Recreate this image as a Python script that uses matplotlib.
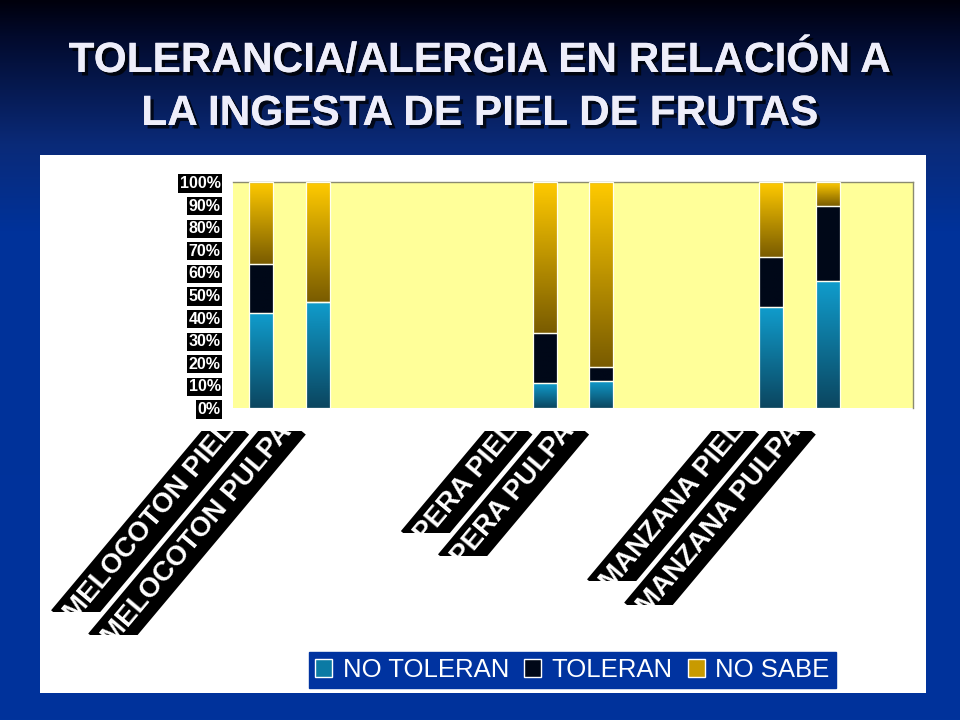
import numpy as np
import matplotlib
matplotlib.use('Agg')
import matplotlib.pyplot as plt
import matplotlib.patheffects as pe
from matplotlib.patches import Rectangle, Patch
from matplotlib.colors import LinearSegmentedColormap, to_rgb
from matplotlib.transforms import Bbox, blended_transform_factory

plt.rcParams['font.family'] = ['Liberation Sans', 'DejaVu Sans']

nan = np.nan
categories = ['MELOCOTON PIEL', 'MELOCOTON PULPA', '', '', '',
              'PERA PIEL', 'PERA PULPA', '', '',
              'MANZANA PIEL', 'MANZANA PULPA', '']
no_toleran = [42, 47, nan, nan, nan, 11, 12, nan, nan, 44.5, 56, nan]
toleran = [21.5, 0, nan, nan, nan, 22, 6, nan, nan, 22.5, 33.5, nan]
no_sabe = [36.5, 53, nan, nan, nan, 67, 82, nan, nan, 33, 10.5, nan]
series_names = ['NO TOLERAN', 'TOLERAN', 'NO SABE']

# (top colour, bottom colour) of each series gradient
grad_colors = [('#109ccc', '#0b4660'), ('#000818', '#000818'), ('#ffca00', '#7a5c00')]
legend_colors = ['#0b7aa4', '#000818', '#c89a00']

W, H = 960, 720
fig = plt.figure(figsize=(W / 100, H / 100), dpi=100)

# slide background
bg = fig.add_axes([0, 0, 1, 1], zorder=-10)
stops = [0.0, 0.05, 0.2, 0.32, 1.0]
stop_cols = [to_rgb(c) for c in ['#00000c', '#020a2c', '#0a2a78', '#00329a', '#00339c']]
t = np.linspace(0, 1, H)
grad = np.stack([np.interp(t, stops, [c[k] for c in stop_cols]) for k in range(3)], axis=-1)
bg.imshow(grad[:, None, :], aspect='auto', extent=[0, 1, 0, 1])
bg.axis('off')

# white chart panel
fig.add_artist(Rectangle((40 / W, 1 - 693 / H), 886 / W, 538 / H, transform=fig.transFigure,
                         facecolor='white', edgecolor='none', zorder=-5))

shadow = [pe.withSimplePatchShadow(offset=(2.5, -2.5), shadow_rgbFace='black', alpha=0.75), pe.Normal()]
fig.text(0.5, 1 - 61 / H, 'TOLERANCIA/ALERGIA EN RELACIÓN A', ha='center', va='center',
         fontsize=30.5, fontweight='bold', color='#eeeefa', path_effects=shadow)
fig.text(0.5, 1 - 114 / H, 'LA INGESTA DE PIEL DE FRUTAS', ha='center', va='center',
         fontsize=30.5, fontweight='bold', color='#eeeefa', path_effects=shadow)

ax = fig.add_axes([233 / W, 1 - 408 / H, 680 / W, 226 / H])
ax.set_facecolor('#ffff99')
for s in ['left', 'bottom']:
    ax.spines[s].set_visible(False)
for s in ['top', 'right']:
    ax.spines[s].set_color('#8a8a70')
    ax.spines[s].set_linewidth(1)

x = np.arange(len(categories))
width = 0.42
bottom = np.zeros(len(categories))
for vals, (ctop, cbot) in zip([no_toleran, toleran, no_sabe], grad_colors):
    vals = np.array(vals, dtype=float)
    bars = ax.bar(x, vals, width, bottom=bottom, facecolor='none',
                  edgecolor='#fffff0', linewidth=0.9, zorder=3)
    cmap = LinearSegmentedColormap.from_list('g', [cbot, ctop])
    for p in bars.patches:
        h = p.get_height()
        if not np.isfinite(h) or h <= 0:
            continue
        x0, y0, w = p.get_x(), p.get_y(), p.get_width()
        img = ax.imshow(np.linspace(0, 1, 64).reshape(-1, 1), cmap=cmap, origin='lower',
                        extent=[x0, x0 + w, y0, y0 + h], aspect='auto', zorder=2)
        img.set_clip_path(p)
    bottom = bottom + vals

ax.set_xlim(-0.5, len(categories) - 0.5)
ax.set_ylim(0, 100)
ax.set_xticks([])
ax.set_yticks(range(0, 101, 10))
ax.set_yticklabels([f'{v}%' for v in range(0, 101, 10)])
ax.tick_params(axis='y', length=0, pad=9, labelcolor='white', labelsize=11.5)
for lab in ax.get_yticklabels():
    lab.set_fontweight('bold')
    lab.set_bbox(dict(facecolor='black', edgecolor='none', pad=1.2))

# rotated category labels, white on black, clipped like the original
trans = blended_transform_factory(ax.transData, fig.transFigure)
labels = []
for i, name in enumerate(categories):
    if not name:
        continue
    txt = ax.text(i - 0.55, 1 - 427 / H, name, transform=trans, rotation=50,
                  rotation_mode='anchor', ha='right', va='center', fontsize=20,
                  fontweight='bold', color='white',
                  bbox=dict(facecolor='black', edgecolor='none', pad=4.5))
    labels.append((txt, ax.transData.transform((i, 0))[0]))

fig.canvas.draw()
renderer = fig.canvas.get_renderer()
for txt, xb in labels:
    ext = txt.get_window_extent(renderer)
    txt.set_clip_on(True)
    txt.set_clip_box(Bbox([[40, ext.y0 + 14], [xb - 5, H - 431]]))

handles = [Patch(facecolor=c, edgecolor='white', linewidth=1) for c in legend_colors]
leg = fig.legend(handles, series_names, loc='center', bbox_to_anchor=(572.5 / W, 1 - 670 / H),
                 ncol=3, frameon=True, fancybox=False, facecolor='#0033a0', edgecolor='#0033a0',
                 framealpha=1, fontsize=18.5, labelcolor='white', handlelength=0.66,
                 handleheight=0.66, handletextpad=0.4, columnspacing=0.6, borderpad=0.25,
                 borderaxespad=0)

fig.savefig('out.png', dpi=100)
